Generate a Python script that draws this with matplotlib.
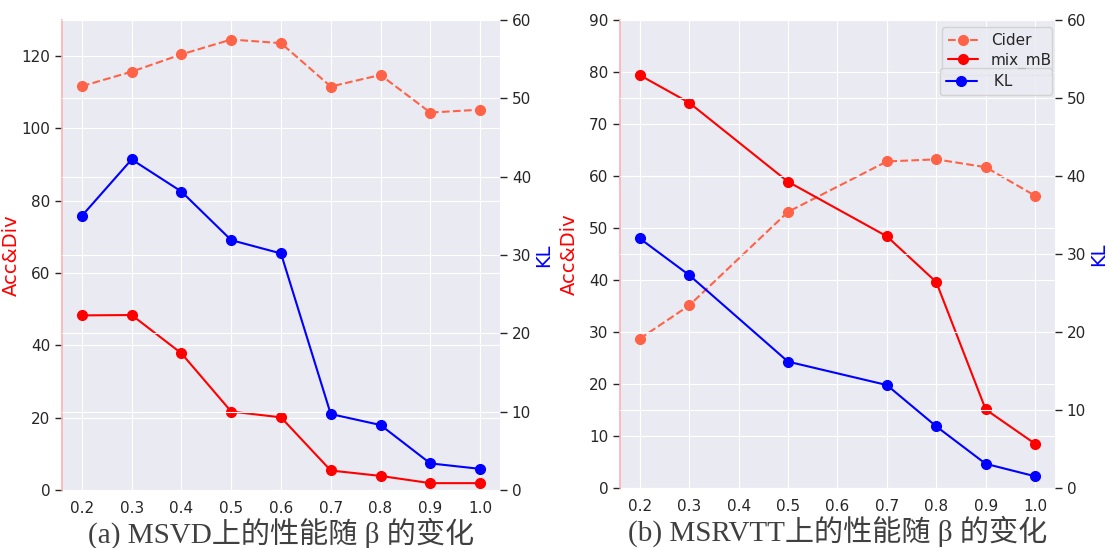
import numpy as np
import matplotlib
matplotlib.use('Agg')
import matplotlib.pyplot as plt

plt.style.use('seaborn-v0_8-darkgrid')
plt.rcParams['font.family'] = ['DejaVu Sans', 'Noto Sans CJK SC']
plt.rcParams['ytick.major.size'] = 5
plt.rcParams['ytick.major.width'] = 1.0
plt.rcParams['ytick.color'] = '.15'

# MSVD
beta_msvd = [0.2, 0.3, 0.4, 0.5, 0.6, 0.7, 0.8, 0.9, 1.0]
cider_msvd = [111.7, 115.7, 120.5, 124.6, 123.6, 111.6, 114.8, 104.4, 105.2]
mixmb_msvd = [48.3, 48.4, 37.8, 21.7, 20.1, 5.4, 3.9, 1.9, 1.9]
kl_msvd = [35.0, 42.2, 38.1, 31.9, 30.2, 9.7, 8.3, 3.4, 2.7]

# MSRVTT
beta_msrvtt = [0.2, 0.3, 0.5, 0.7, 0.8, 0.9, 1.0]
cider_msrvtt = [28.7, 35.1, 53.1, 62.8, 63.2, 61.7, 56.2]
mixmb_msrvtt = [79.4, 74.1, 58.9, 48.4, 39.6, 15.1, 8.5]
kl_msrvtt = [32.0, 27.3, 16.2, 13.2, 7.9, 3.1, 1.5]

xticks = [0.2, 0.3, 0.4, 0.5, 0.6, 0.7, 0.8, 0.9, 1.0]
captions = ['(a) MSVD上的性能随 β 的变化', '(b) MSRVTT上的性能随 β 的变化']

fig = plt.figure(figsize=(11.13, 5.48), dpi=100)
positions = [[0.0557, 0.1058, 0.3935, 0.8577], [0.557, 0.1095, 0.3908, 0.854]]
ylims = [130, 90]
panels = [(beta_msvd, cider_msvd, mixmb_msvd, kl_msvd),
          (beta_msrvtt, cider_msrvtt, mixmb_msrvtt, kl_msrvtt)]

for i, (x, cider, mixmb, kl) in enumerate(panels):
    ax = fig.add_axes(positions[i])
    ax.plot(x, cider, '--o', color='tomato', lw=1.5, ms=7, label='Cider')
    ax.plot(x, mixmb, '-o', color='red', lw=1.5, ms=7, label='mix_mB')
    ax.set_ylim(0, ylims[i])
    ax.set_xticks(xticks)
    ax.set_ylabel('Acc&Div', color='red', fontsize=14)
    ax.yaxis.set_label_coords(-0.094, 0.5)
    ax.set_xlabel(captions[i], fontsize=21, family=['Liberation Serif', 'Noto Sans CJK SC'],
                  color='.25')
    ax.xaxis.set_label_coords(0.5, -0.058)
    ax.xaxis.label.set_va('top')
    ax.tick_params(axis='both', labelsize=11)
    ax.tick_params(axis='x', pad=8)
    ax.spines['left'].set_visible(True)
    ax.spines['left'].set_color('#ffb0b0')
    ax.spines['left'].set_linewidth(1.2)

    ax2 = ax.twinx()
    ax2.plot(x, kl, '-o', color='blue', lw=1.5, ms=7, label=' KL')
    ax2.set_ylim(0, 60)
    ax2.set_ylabel('KL', color='blue', fontsize=14, labelpad=2)
    ax2.tick_params(axis='y', labelsize=11)

    if i == 1:
        ax.legend(loc='upper left', bbox_to_anchor=(0.74, 0.985, 0.253, 0), mode='expand',
                  borderaxespad=0, frameon=True, fontsize=11, framealpha=0.8,
                  edgecolor='#cccccc', labelspacing=0.3)
        ax2.legend(loc='upper left', bbox_to_anchor=(0.7356, 0.897, 0.258, 0), mode='expand',
                   borderaxespad=0, frameon=True, fontsize=11, framealpha=0.8,
                   edgecolor='#cccccc')

fig.savefig('out.png', dpi=100)
